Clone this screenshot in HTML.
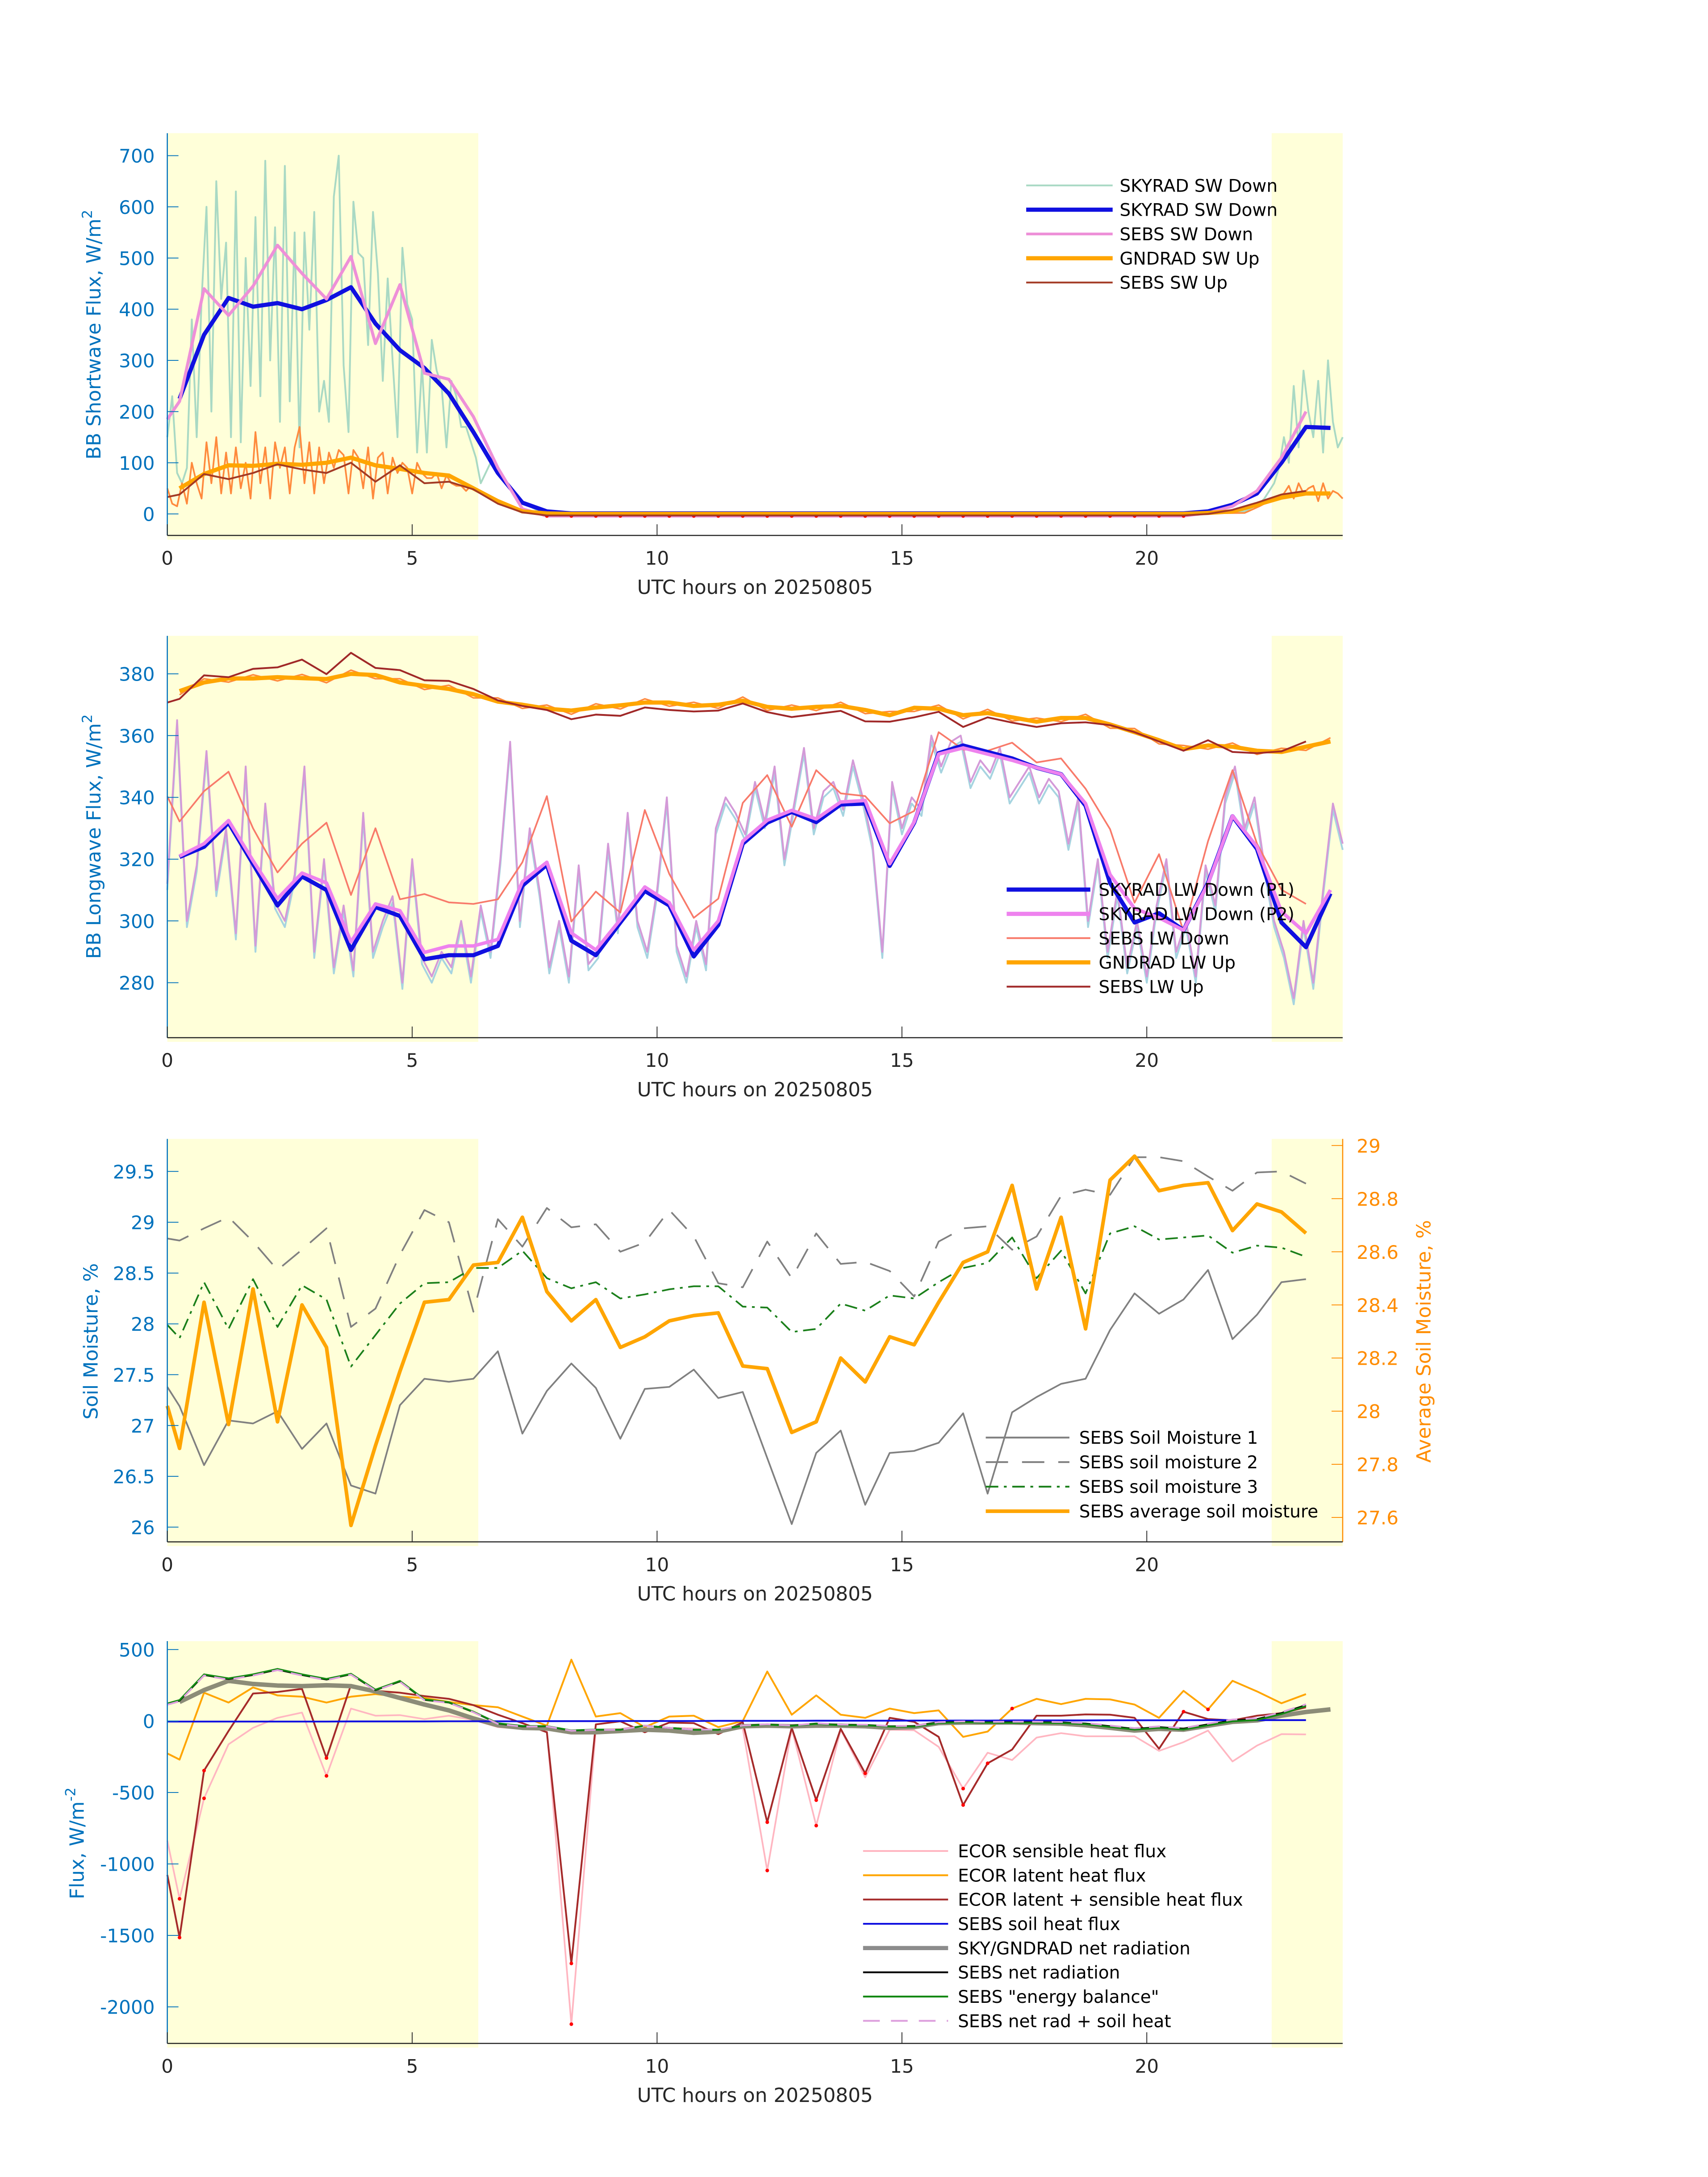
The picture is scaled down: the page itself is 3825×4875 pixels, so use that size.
<!DOCTYPE html>
<html><head><meta charset="utf-8"><style>
html,body{margin:0;padding:0;background:#fff}
svg{display:block}
text{font-family:"DejaVu Sans","Liberation Sans",sans-serif}
</style></head><body>
<svg id="fig" width="3825" height="4875" viewBox="0 0 1225 1561.3" preserveAspectRatio="none" xmlns="http://www.w3.org/2000/svg"></svg>
<script>
// ---------- DATA ----------
// Panel 1 shortwave
const swBlue = [225,350,422,405,412,400,418,443,372,320,285,235,160,80,22,5, 1,1,1,1,1,1,1,1,1,1,1,1,1,1,1,1,1,1,1,1,1,1,1,1,1,1, 5,18,40,100,170,168];
const swPink = [185,220,440,388,445,525,470,420,503,333,448,275,263,190,90,10, -4,-4,-4,-4,-4,-4,-4,-4,-4,-4,-4,-4,-4,-4,-4,-4,-4,-4,-4,-4,-4,-4,-4,-4,-4,-4,-4, 2,15,45,110,200];
const swGnd = [50,78,95,94,98,96,100,110,95,88,80,75,50,25,5,1, 0,0,0,0,0,0,0,0,0,0,0,0,0,0,0,0,0,0,0,0,0,0,0,0,0,0, 2,5,18,32,40,40];
const swSebsUp = [33,38,78,68,80,97,87,80,100,63,95,60,63,48,20,3, -3,-3,-3,-3,-3,-3,-3,-3,-3,-3,-3,-3,-3,-3,-3,-3,-3,-3,-3,-3,-3,-3,-3,-3,-3,-3,-3, 0,8,22,38,45];
const swN1 = [150,230,80,60,90,380,150,420,600,200,650,420,530,150,630,140,500,250,580,230,690,300,560,180,680,220,550,130,550,360,590,200,260,180,620,700,290,160,610,510,500,330,590,470,260,460,300,150,520,410,380,120,290,120,340,280,250,130,260,230,170,170,140,110,60];
const swNmidT = [6.6,6.9,7.2,7.6,8,12,16,20,22,22.3];
const swNmidV = [100,60,25,5,1,1,2,1,5,20];
const swN2 = [30,45,60,90,150,100,250,130,280,200,150,260,120,300,180,130,150];
const swU1 = [50,20,15,60,20,100,60,30,140,60,150,40,120,40,130,50,100,30,160,60,130,30,140,90,130,40,130,170,60,140,40,130,60,120,90,125,115,40,125,110,50,130,30,110,120,40,110,80,100,90,40,100,80,70,70,80,50,75,60,55,55,45,55,45,40];
const swUmidV = [35,20,8,2,0,0,2,0,2,15];
const swU2 = [20,25,30,35,40,55,30,60,40,50,55,25,60,30,45,40,30];
// Panel 2 longwave
const lwP1 = [320.7,324,331.8,318.5,305,314.4,310,290.6,304.5,301.6,287.6,288.9,288.9,291.9,311.4,318.2,293.6,288.9,299.5,309.7,305,288.5,298.7,325,331.8, 335.3,332,337.7,338,317.8,331.8,354.3,356.8,354.7,352.6,349.6,347.5,337.3,312.3,299.5,302.5,297,312.3,333.9,323.3,299.5,291.5,308.9];
const lwP2 = [321,325,332.5,319.5,307.2,315.5,312.3,293.2,305.5,303.3,289.8,291.9,291.9,294,312.7,319,296.1,290.6,300.4,311,305.9,290.6,300,325.8,332.6, 335.8,333,338.5,339,318.5,332,354,356,354,352,349.6,347.5,338,315,304,301,297,312,334,324,303,296,310];
const lwSebsDown = [340.3,332.2,342,348.3,330,315.7,325,331.8,308.4,330,307,308.7,306,305.5,307,319,340.4,299.8,309.5,302.7,335.9,315.2,301,307.2,338.2,347.2, 330.5,348.8,341.3,340.4,331.6,335.6,361.1,355.5,355.1,357.7,351.3,352.6,342.8,329.7,305.9,321.6,296.6,325.8,348.8,325,310.1,305.5];
const lwGndUp = [374.4,377.2,378.5,378.5,378.9,378.6,378.3,380,379.6,377.2,376.1,375.1,373.4,371,370,368.7,368.1,369.1,369.8,370.7,370.7,369.6,370,371.3,369.3, 368.7,369.3,369.6,368.3,366.6,369,368.7,366.6,367.3,365.9,364.5,365.7,365.7,363.6,361.1,358.5,355.6,356.8,356.4,355.1,354.7,356.4,358.1];
const lwSebsUp = [370.7,371.9,379.5,378.9,381.6,382.1,384.6,379.9,386.8,381.9,381.2,377.9,377.7,375.1,371.4,369.6,368.3,365.3,366.8,366.4,369.1,368.3,367.8,368.1,370.4,367.6, 366,367,368,364.6,364.5,365.9,367.7,362.8,365.9,364.2,362.8,364,364.3,363.4,361.1,358.1,355.1,358.5,354.7,354.3,354.9,358.1];
const lwNoise = [312,365,300,318,355,310,330,296,350,292, 338,306,300,315,350,290,320,285,305,284, 335,290,300,308,280,320,288,282,290,285, 300,282,305,290,320,358,300,330,310,285, 300,282,318,286,290,325,298,335,300,290, 310,340,292,282,300,286,330,340,335,328, 345,332,350,320,338,356,330,342,345,336, 352,340,325,290,345,330,340,336,360,350, 358,360,345,352,348,356,340,345,350,340, 346,342,325,340,300,320,290,310,285,300, 282,305,320,290,300,282,318,305,340,350, 330,340,318,300,290,275,300,280,310,338, 325];
// Panel 3 soil moisture
const sm1 = [27.38,27.19,26.61,27.05,27.02,27.14,26.77,27.02,26.41,26.33,27.20,27.46,27.43,27.46,27.73,26.92,27.34,27.61,27.37,26.87,27.36,27.38,27.55,27.27,27.33,26.68,26.03,26.73,26.95,26.22,26.73,26.75,26.83,27.12,26.33,27.13,27.28,27.41,27.46,27.94,28.30,28.10,28.24,28.53,27.85,28.09,28.41,28.44];
const sm2 = [28.84,28.82,28.94,29.05,28.81,28.53,28.73,28.94,27.97,28.15,28.68,29.12,29.0,28.12,29.03,28.76,29.14,28.95,28.98,28.71,28.8,29.12,28.86,28.4,28.36,28.81,28.45,28.89,28.59,28.61,28.52,28.27,28.81,28.94,28.96,28.73,28.86,29.26,29.32,29.27,29.64,29.64,29.6,29.45,29.31,29.49,29.5,29.38];
const sm3 = [27.99,27.86,28.41,27.95,28.44,27.97,28.38,28.24,27.58,27.89,28.2,28.4,28.41,28.55,28.55,28.72,28.45,28.35,28.41,28.25,28.29,28.34,28.37,28.37,28.17,28.16,27.92,27.95,28.2,28.13,28.28,28.25,28.41,28.55,28.6,28.85,28.45,28.72,28.3,28.89,28.96,28.83,28.85,28.87,28.7,28.77,28.75,28.66];
const smAvg = [28.02,27.86,28.41,27.95,28.46,27.96,28.40,28.24,27.57,27.87,28.15,28.41,28.42,28.55,28.56,28.73,28.45,28.34,28.42,28.24,28.28,28.34,28.36,28.37,28.17,28.16,27.92,27.96,28.2,28.11,28.28,28.25,28.41,28.56,28.6,28.85,28.46,28.73,28.31,28.87,28.96,28.83,28.85,28.86,28.68,28.78,28.75,28.67];
// Panel 4 fluxes
const fxSens = [-837,-1244,-541,-163,-48,22,59,-384,87,37,41,13,37,7,-43,-55,-61,-2121,-61,-55,-33,-48,-52,-61,-52,-1046,-52,-732,-61,-394,-61,-65,-181,-473,-222,-273,-116,-85,-107,-107,-107,-209,-148,-67,-283,-172,-92,-94];
const fxLat = [-227,-270,198,129,235,179,170,129,170,188,170,161,133,111,96,31,-33,429,31,55,-43,31,37,-43,0,346,44,179,44,22,87,55,74,-111,-74,87,155,118,155,151,115,22,211,81,281,207,124,188];
const fxSum = [-1077,-1515,-347,-70,192,203,225,-259,253,211,198,174,155,111,44,-15,-79,-1696,-24,-2,-79,-11,-15,-92,-9,-708,-48,-554,-55,-366,22,-6,-111,-588,-296,-200,37,37,46,44,22,-194,65,13,4,37,55,96];
const fxSoil = [-4,-4,-4,-4,-4,-4,-4,-4,-3,-3,-3,-3,-2,-2,-2,-2,-1,-1,-1,0,0,0,0,1,1,1,1,2,2,2,2,3,3,3,3,4,4,4,4,5,5,5,5,6,6,6,6,6];
const fxNetSky = [133,216,281,259,248,244,250,244,207,161,115,74,18,-30,-48,-52,-79,-79,-70,-61,-67,-83,-74,-37,-33,-37,-33,-33,-37,-48,-43,-15,-11,-11,-11,-15,-18,-30,-48,-67,-55,-61,-33,-6,4,37,63,81];
const fxNet = [118,142,322,294,322,360,322,290,327,216,277,148,129,63,-18,-37,-37,-67,-61,-61,-33,-48,-61,-61,-33,-24,-33,-18,-28,-28,-37,-37,-11,-6,-9,-9,-9,-11,-18,-37,-55,-43,-55,-24,4,13,55,111];
const dotSens = [1,2,7,17,25,27,33];
const dotSum = [1,2,7,17,25,27,29,33,34,42];
const dotLat = [35,43];
// time grids (half-hourly records)
const tA = [0]; for (let i=0;i<47;i++) tA.push(0.25+0.5*i);
const tB = []; for (let i=0;i<48;i++) tB.push(0.25+0.5*i);

// ---------- DRAWING ----------
const NS='http://www.w3.org/2000/svg';
const svg=document.getElementById('fig');
function el(tag,attrs,parent){const e=document.createElementNS(NS,tag);for(const k in attrs)e.setAttribute(k,attrs[k]);(parent||svg).appendChild(e);return e;}
const XL=120, XR=963;
function X(h){return XL+h*(XR-XL)/24;}
function mkY(top,bot,ymin,ymax){return v=>bot-(v-ymin)/(ymax-ymin)*(bot-top);}
function poly(g,xs,ys,Xf,Yf,stroke,w,extra){
  const pts=xs.map((x,i)=>Xf(x).toFixed(2)+','+Yf(ys[i]).toFixed(2)).join(' ');
  return el('polyline',Object.assign({points:pts,fill:'none',stroke:stroke,'stroke-width':w,'stroke-linejoin':'round'},extra||{}),g);
}
function panel(name){
  const g=el('g',{});
  
  
  return g;
}
function shading(g,top,bot){
  const r1=el('rect',{x:X(0),y:top,width:X(6.35)-X(0),height:bot-top+3,fill:'#ffffd9'},g);
  
  
  const r2=el('rect',{x:X(22.55),y:top,width:XR-X(22.55),height:bot-top+3,fill:'#ffffd9'},g);
  
  
}
function xAxis(g,bot){
  const ax=el('line',{x1:XL,y1:bot,x2:XR,y2:bot,stroke:'#262626','stroke-width':0.8},g);
  
  
  [0,5,10,15,20].forEach(h=>{
    el('line',{x1:X(h),y1:bot,x2:X(h),y2:bot-8,stroke:'#262626','stroke-width':0.6},g);
    const t=el('text',{x:X(h),y:bot+21,'font-size':13.5,'text-anchor':'middle',fill:'#262626'},g);
    t.textContent=String(h);
    
    
  });
  const xt=el('text',{x:(XL+XR)/2,y:bot+42,'font-size':14,'text-anchor':'middle',fill:'#262626'},g);
  xt.textContent='UTC hours on 20250805';
  
  
}
function yAxis(g,top,bot,Yf,ticks,labels,color,side){
  const x=side==='right'?XR:XL;
  const ax=el('line',{x1:x,y1:top,x2:x,y2:bot,stroke:color,'stroke-width':0.8},g);
  
  
  ticks.forEach((v,i)=>{
    const y=Yf(v);
    el('line',{x1:x,y1:y,x2:side==='right'?x-8:x+8,y2:y,stroke:color,'stroke-width':0.6},g);
    const t=el('text',{x:side==='right'?x+10:x-9,y:y+5,'font-size':13.5,'text-anchor':side==='right'?'start':'end',fill:color},g);
    t.textContent=labels[i];
    
    
  });
}
function yTitle(g,x,cy,txt,sup,color){
  const t=el('text',{x:x,y:cy,'font-size':14,'text-anchor':'middle',fill:color,transform:`rotate(-90 ${x} ${cy})`},g);
  t.textContent=txt;
  if(sup){const s=el('tspan',{dy:-6,'font-size':10},t);s.textContent=sup;}
  
  
}
function legend(g,x0,x1,tx,y0,dy,entries){
  const lg=el('g',{},g);
  
  
  entries.forEach((e,i)=>{
    const y=y0+i*dy;
    const ln=el('line',Object.assign({x1:x0,y1:y,x2:x1,y2:y,stroke:e.c,'stroke-width':e.w},e.extra||{}),lg);
    
    
    const t=el('text',{x:tx,y:y+4.5,'font-size':12.5,fill:'#000'},lg);
    t.textContent=e.t;
    
    
  });
}
function dots(g,xs,ys,idx,Xf,Yf){idx.forEach(i=>{const d=el('circle',{cx:Xf(xs[i]),cy:Yf(ys[i]),r:1.3,fill:'#ff0000'},g);});}
function seq(start,step,n){const a=[];for(let i=0;i<n;i++)a.push(+(start+step*i).toFixed(3));return a;}

// ===== Panel 1 =====
{
 const top=95.5,bot=384,g=panel('shortwave-panel');
 const Y=mkY(top,bot,-42,744);
 shading(g,top,bot);
 const nT=[].concat(seq(0,0.1,65),swNmidT,seq(22.4,0.1,17));
 const nV=[].concat(swN1,swNmidV,swN2);
 let p=poly(g,nT,nV,X,Y,'#a9d9c4',1.3);  
 const uV=[].concat(swU1,swUmidV,swU2);
 p=poly(g,nT,uV,X,Y,'#ff8a3d',1.2);  
 p=poly(g,tB,swBlue,X,Y,'#1010e0',3);  
 p=poly(g,tA,swPink,X,Y,'#ee90d8',2.2);  
 dots(g,tA,swPink,seq(16,1,27),X,Y);
 p=poly(g,tB,swGnd,X,Y,'#ffa500',3);  
 p=poly(g,tA,swSebsUp,X,Y,'#a33a24',1.3);  
 yAxis(g,top,bot,Y,[0,100,200,300,400,500,600,700],['0','100','200','300','400','500','600','700'],'#0072bd','left');
 xAxis(g,bot);
 yTitle(g,72,240,'BB Shortwave Flux, W/m','2','#0072bd');
 legend(g,736,798,803,133,17.4,[{t:'SKYRAD SW Down',c:'#a9d9c4',w:1.3},{t:'SKYRAD SW Down',c:'#1010e0',w:3},{t:'SEBS SW Down',c:'#ee90d8',w:2},{t:'GNDRAD SW Up',c:'#ffa500',w:3},{t:'SEBS SW Up',c:'#a33a24',w:1.3}]);
}
// ===== Panel 2 =====
{
 const top=456,bot=744.2,g=panel('longwave-panel');
 const Y=mkY(top,bot,262.2,392.3);
 shading(g,top,bot);
 const nT=seq(0,0.2,121);
 let p=poly(g,nT,lwNoise.map(v=>v-2),X,Y,'#a6d4e0',1.3);  
 p=poly(g,nT,lwNoise,X,Y,'#d49ad8',1.3);  
 p=poly(g,tB,lwGndUp.map((v,i)=>v+(i%2?1.2:-1.2)),X,Y,'#ff8a3d',1.1);  
 p=poly(g,tA,lwSebsDown,X,Y,'#f87a6a',1.2);  
 p=poly(g,tB,lwP1,X,Y,'#1010e0',3);  
 p=poly(g,tB,lwP2,X,Y,'#ee82ee',2.5);  
 p=poly(g,tB,lwGndUp,X,Y,'#ffa500',3);  
 p=poly(g,tA,lwSebsUp,X,Y,'#a02828',1.3);  
 yAxis(g,top,bot,Y,[280,300,320,340,360,380],['280','300','320','340','360','380'],'#0072bd','left');
 xAxis(g,bot);
 yTitle(g,72,600,'BB Longwave Flux, W/m','2','#0072bd');
 legend(g,722,782,788,638,17.4,[{t:'SKYRAD LW Down (P1)',c:'#1010e0',w:3},{t:'SKYRAD LW Down (P2)',c:'#ee82ee',w:3},{t:'SEBS LW Down',c:'#f87a6a',w:1.3},{t:'GNDRAD LW Up',c:'#ffa500',w:3},{t:'SEBS LW Up',c:'#a02828',w:1.3}]);
}
// ===== Panel 3 =====
{
 const top=816.8,bot=1105.8,g=panel('soil-moisture-panel');
 const Y=mkY(top,bot,25.855,29.82);
 const Y2=mkY(top,bot,27.508,29.025);
 shading(g,top,bot);
 let p=poly(g,tA,sm1,X,Y,'#808080',1.2);  
 p=poly(g,tA,sm2,X,Y,'#808080',1.2,{'stroke-dasharray':'16 10'});  
 p=poly(g,tA,sm3,X,Y,'#1a7f1a',1.2,{'stroke-dasharray':'9 4 2 4'});  
 p=poly(g,tA,smAvg,X,Y2,'#ffa500',2.6);  
 yAxis(g,top,bot,Y,[26,26.5,27,27.5,28,28.5,29,29.5],['26','26.5','27','27.5','28','28.5','29','29.5'],'#0072bd','left');
 yAxis(g,top,bot,Y2,[27.6,27.8,28,28.2,28.4,28.6,28.8,29],['27.6','27.8','28','28.2','28.4','28.6','28.8','29'],'#ff8c00','right');
 xAxis(g,bot);
 yTitle(g,70,962,'Soil Moisture, %','','#0072bd');
 yTitle(g,1026,962,'Average Soil Moisture, %','','#ff8c00');
 legend(g,707,767,774,1031,17.6,[{t:'SEBS Soil Moisture 1',c:'#808080',w:1.3},{t:'SEBS soil moisture 2',c:'#808080',w:1.3,extra:{'stroke-dasharray':'16 10'}},{t:'SEBS soil moisture 3',c:'#1a7f1a',w:1.3,extra:{'stroke-dasharray':'9 4 2 4'}},{t:'SEBS average soil moisture',c:'#ffa500',w:2.6}]);
}
// ===== Panel 4 =====
{
 const top=1177,bot=1465.5,g=panel('flux-panel');
 const Y=mkY(top,bot,-2255.6,558.5);
 shading(g,top,bot);
 let p=poly(g,tA,fxSens,X,Y,'#ffb6c1',1.2);  
 p=poly(g,tA,fxLat,X,Y,'#ffa500',1.3);  
 p=poly(g,tA,fxSum,X,Y,'#a52a2a',1.3);  
 p=poly(g,tB,fxNetSky,X,Y,'#8c8c78',3.2);  
 p=poly(g,tA,fxSoil,X,Y,'#1010e0',1.3);  
 p=poly(g,tA,fxNet,X,Y,'#000000',1.3);  
 p=poly(g,tA,fxNet.map((v,i)=>v-fxSoil[i]),X,Y,'#118811',1.3);  
 p=poly(g,tA,fxNet.map((v,i)=>v+fxSoil[i]),X,Y,'#dda0dd',1.3,{'stroke-dasharray':'8 6'});  
 dots(g,tA,fxSens,dotSens,X,Y);
 dots(g,tA,fxSum,dotSum,X,Y);
 dots(g,tA,fxLat,dotLat,X,Y);
 yAxis(g,top,bot,Y,[-2000,-1500,-1000,-500,0,500],['-2000','-1500','-1000','-500','0','500'],'#0072bd','left');
 xAxis(g,bot);
 yTitle(g,60,1322,'Flux, W/m','-2','#0072bd');
 legend(g,619,680,687,1327.5,17.4,[{t:'ECOR sensible heat flux',c:'#ffb6c1',w:1.3},{t:'ECOR latent heat flux',c:'#ffa500',w:1.3},{t:'ECOR latent + sensible heat flux',c:'#a52a2a',w:1.3},{t:'SEBS soil heat flux',c:'#1010e0',w:1.3},{t:'SKY/GNDRAD net radiation',c:'#8c8c8c',w:3},{t:'SEBS net radiation',c:'#000',w:1.3},{t:'SEBS "energy balance"',c:'#118811',w:1.3},{t:'SEBS net rad + soil heat',c:'#dda0dd',w:1.3,extra:{'stroke-dasharray':'12 8'}}]);
}
</script>
</body></html>
